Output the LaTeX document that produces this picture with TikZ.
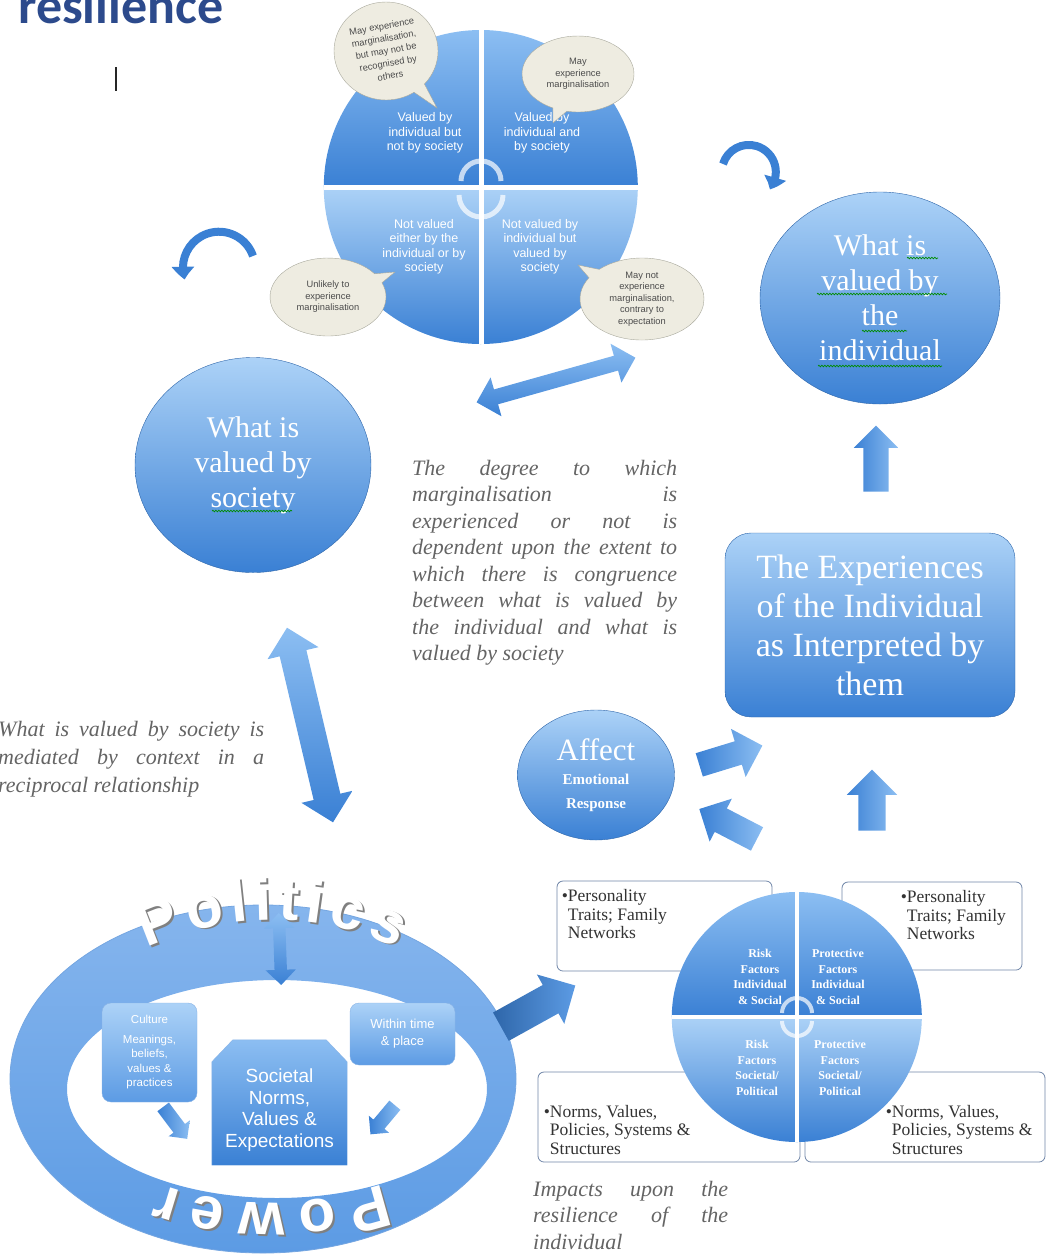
\documentclass[tikz,border=0pt]{standalone}
\usepackage{fontspec}
\setmainfont{Liberation Serif}
\setsansfont{Liberation Sans}
\newfontfamily\titlefont{Carlito}
\usepackage{tikz}
\usetikzlibrary{shapes.geometric, shapes.arrows, shapes.callouts, arrows.meta, bending, positioning, decorations.text, decorations.pathmorphing}
\definecolor{titleblue}{RGB}{44, 74, 140}
\definecolor{paleblue}{RGB}{172, 210, 247}
\definecolor{skyblue}{RGB}{140, 190, 242}
\definecolor{midblue}{RGB}{92, 155, 228}
\definecolor{deepblue}{RGB}{58, 128, 212}
\definecolor{ringblue}{RGB}{112, 168, 234}
\definecolor{bubblefill}{RGB}{238, 236, 225}
\definecolor{bubbleline}{RGB}{168, 168, 156}
\definecolor{notegray}{RGB}{100, 100, 100}
\definecolor{boxline}{RGB}{112, 134, 168}

\begin{document}
\begin{tikzpicture}[
    x=1pt, y=1pt,
    bigcirc/.style={ellipse, draw=deepblue!80!black, top color=paleblue, bottom color=deepblue, text=white, align=center, inner sep=0pt, font=\fontsize{30}{35}\selectfont},
    quad/.style={text=white, align=center, inner sep=0pt, font=\sffamily\fontsize{12.5}{14.5}\selectfont},
    factor/.style={text=white, align=center, inner sep=0pt, font=\bfseries\fontsize{12}{15.5}\selectfont},
    bubble/.style={ellipse callout, draw=bubbleline, fill=bubblefill, inner sep=0pt, text=black!70, align=center, font=\sffamily\fontsize{9.3}{11.5}\selectfont},
    note/.style={text=notegray, align=justify, inner sep=0pt, anchor=north west, font=\itshape\fontsize{22}{26.5}\selectfont},
    listbox/.style={rectangle, rounded corners=6pt, draw=boxline, thick, fill=white},
    listtext/.style={text=black!80, align=left, inner sep=0pt, font=\fontsize{17.5}{18.5}\selectfont},
    ctxbox/.style={rectangle, rounded corners=9pt, draw=deepblue!60, top color=paleblue, bottom color=midblue, text=white, align=center, inner sep=0pt, font=\sffamily\fontsize{11.5}{14.5}\selectfont},
    onearrow/.style 2 args={single arrow, draw=none, left color=deepblue, right color=skyblue, inner xsep=0pt, inner ysep=#1, single arrow head extend=#2},
    twoarrow/.style 2 args={double arrow, draw=none, top color=skyblue, bottom color=deepblue, inner xsep=0pt, inner ysep=#1, double arrow head extend=#2},
    curl/.style={line width=8pt, draw=deepblue, -{Triangle[width=22pt, length=13pt, bend]}},
    cyclemark/.style={draw=white, opacity=0.7, line width=5pt},
    spell/.style={draw=green!55!black, line width=0.7pt, decorate, decoration={snake, amplitude=0.8pt, segment length=3pt}},
    ringword/.style 2 args={decorate, decoration={text along path, text align=fit to path, text color=#1, text={|\sffamily\bfseries\fontsize{60}{60}\selectfont|#2}}},
  ]

  % Frame
  \useasboundingbox (0,0) rectangle (1059,-1259);
  \clip (0,0) rectangle (1059,-1259);

  % Title, cut by the top edge
  \node[anchor=base west, inner sep=0pt, text=titleblue, font=\titlefont\bfseries\fontsize{52}{52}\selectfont] (title) at (18,-23) {resilience};
  \coordinate (cursortop) at (116,-67);
  \coordinate (cursorbot) at (116,-91);
  \draw[line width=1.8pt, black!85] (cursortop) -- (cursorbot);

  % Matrix of what is valued
  \node[circle, minimum size=314, inner sep=0pt] (grid) at (481,-187) {};
  \shade[top color=skyblue, bottom color=deepblue] (grid.west) arc[start angle=180, end angle=0, radius=157] -- cycle;
  \shade[top color=paleblue, bottom color=deepblue] (grid.west) arc[start angle=180, end angle=360, radius=157] -- cycle;
  \draw[white, line width=5pt] (grid.north) -- (grid.south);
  \draw[white, line width=5pt] (grid.west) -- (grid.east);
  \draw[cyclemark] (461,-181) arc[start angle=180, end angle=0, radius=20];
  \draw[cyclemark] (459,-195) arc[start angle=180, end angle=360, radius=22];
  \node[quad] (q1) at (425,-133) {Valued by\\individual but\\not by society};
  \node[quad] (q2) at (542,-133) {Valued by\\individual and\\by society};
  \node[quad] (q3) at (424,-247) {Not valued\\either by the\\individual or by\\society};
  \node[quad] (q4) at (540,-247) {Not valued by\\individual but\\valued by\\society};

  % Speech bubbles
  \node[bubble, minimum width=104, minimum height=98, callout absolute pointer={(437,-108)}] (b1) at (386,-51) {};
  \node[inner sep=0pt, text=black!70, align=center, font=\sffamily\fontsize{9.3}{12.5}\selectfont, rotate=10] (b1text) at (b1.center) {May experience\\marginalisation,\\but may not be\\recognised by\\others};
  \node[bubble, minimum width=112, minimum height=76, callout absolute pointer={(553,-123)}] (b2) at (578,-74) {May\\experience\\marginalisation};
  \node[bubble, minimum width=116, minimum height=78, callout absolute pointer={(395,-272)}] (b3) at (328,-297) {Unlikely to\\experience\\marginalisation};
  \node[bubble, minimum width=124, minimum height=82, callout absolute pointer={(578,-265)}] (b4) at (642,-299) {May not\\experience\\marginalisation,\\contrary to\\expectation};

  % Curved arrows
  \draw[curl] (253,-256) arc[start angle=19, end angle=199, radius=36];
  \draw[curl] (723,-164) arc[start angle=163, end angle=-40, radius=27];

  % Circles and the experiences box
  \node[bigcirc, minimum width=236, minimum height=215] (society) at (253,-465) {What is\\valued by\\society};
  \node[bigcirc, minimum width=240, minimum height=212] (individual) at (880,-298) {What is\\valued by\\the\\individual};
  \node[rectangle, rounded corners=26pt, draw=deepblue!80!black, top color=paleblue, bottom color=deepblue, text=white, align=center, minimum width=290, minimum height=184, inner sep=0pt, font=\fontsize{34}{39}\selectfont] (experience) at (870,-625) {The Experiences\\of the Individual\\as Interpreted by\\them};
  \node[bigcirc, minimum width=157, minimum height=130, font=\bfseries\fontsize{15}{24}\selectfont] (affect) at (596,-775) {{\mdseries\fontsize{31}{31}\selectfont Affect}\\Emotional\\Response};

  % Spelling marks
  \draw[spell] (212,-511) -- (292,-511);
  \draw[spell] (907,-258) -- (938,-258);
  \draw[spell] (817,-294) -- (947,-294);
  \draw[spell] (862,-331) -- (907,-331);
  \draw[spell] (818,-366) -- (942,-366);

  % Notes
  \node[note, text width=265] (congruence) at (412,-460) {The degree to which\linebreak marginalisation is\linebreak experienced or not is\linebreak dependent upon the extent to\linebreak which there is congruence\linebreak between what is valued by\linebreak the individual and what is\linebreak valued by society};
  \node[note, text width=266, font=\itshape\fontsize{22}{28}\selectfont] (mediated) at (-2,-721) {What is valued by society is\linebreak mediated by context in a\linebreak reciprocal relationship};
  \node[note, text width=195] (impacts) at (533,-1181) {Impacts upon the\linebreak resilience of the\linebreak individual};

  % Block arrows
  \node[twoarrow={7.5pt}{12.5pt}, minimum height=165, rotate=15.7] (linkarrow) at (556,-380) {};
  \node[twoarrow={13.5pt}{12.5pt}, minimum height=200, rotate=-76.7] (contextarrow) at (310,-725) {};
  \node[onearrow={12.5pt}{9.5pt}, minimum height=66, rotate=90] (risearrow) at (876,-465) {};
  \node[onearrow={13.5pt}{11.5pt}, minimum height=61, rotate=90] (liftarrow) at (872,-807) {};
  \node[onearrow={12pt}{13pt}, minimum height=66, rotate=17] (feedarrow) at (725,-757) {};
  \node[onearrow={13pt}{11pt}, minimum height=65, rotate=152.6] (backarrow) at (734,-827) {};

  % Context ring
  \shade[even odd rule, top color=ringblue!85!white, bottom color=midblue] (263,-1079) ellipse[x radius=253, y radius=174] (277,-1089) ellipse[x radius=210, y radius=109];
  \draw[deepblue!70, thick] (263,-1079) ellipse[x radius=253, y radius=174];
  \path[ringword={gray}{Politics}, shift={(1.8,-1.8)}] (147,-948) arc[start angle=115.25, end angle=64.75, radius=293];
  \path[ringword={white}{Politics}] (147,-948) arc[start angle=115.25, end angle=64.75, radius=293];
  \path[ringword={gray}{Power}, shift={(1.8,-1.8)}] (383.7,-1184.3) arc[start angle=-71, end angle=-109, radius=343];
  \path[ringword={white}{Power}] (383.7,-1184.3) arc[start angle=-71, end angle=-109, radius=343];
  \node[twoarrow={6pt}{9pt}, minimum height=72, rotate=92] (politicsarrow) at (280,-949) {};
  \node[ctxbox, minimum width=95, minimum height=99] (culture) at (149.5,-1052.5) {Culture\\[5pt]Meanings,\\beliefs,\\values \&\\practices};
  \node[ctxbox, minimum width=105, minimum height=62, font=\sffamily\fontsize{13}{17}\selectfont] (timeplace) at (402.5,-1034) {Within time\\\& place};
  \node[rectangle, minimum width=135, minimum height=125, inner sep=0pt] (norms) at (279.5,-1102.5) {};
  \shade[draw=deepblue!60, top color=skyblue, bottom color=deepblue] (norms.south west) -- ([yshift=-22pt]norms.north west) -- ([xshift=21pt]norms.north west) -- ([xshift=-21pt]norms.north east) -- ([yshift=-22pt]norms.north east) -- (norms.south east) -- cycle;
  \node[text=white, align=center, inner sep=0pt, font=\sffamily\fontsize{19}{21.5}\selectfont] (normstext) at (279.5,-1110) {Societal\\Norms,\\Values \&\\Expectations};
  \node[onearrow={7pt}{6pt}, minimum height=40, rotate=-53] (culturearrow) at (173,-1120) {};
  \node[onearrow={7pt}{6pt}, minimum height=38, rotate=-130] (placearrow) at (385,-1117) {};
  \node[onearrow={16pt}{12pt}, minimum height=85, rotate=29, left color=deepblue!80!black, right color=midblue] (impactarrow) at (531,-1010) {};

  % Risk and protective factors
  \node[listbox, minimum width=215, minimum height=90] (riskpersonal) at (664.5,-926) {};
  \node[listbox, minimum width=180, minimum height=88] (protpersonal) at (932,-926) {};
  \node[listbox, minimum width=262, minimum height=90] (risksystem) at (669,-1117) {};
  \node[listbox, minimum width=240, minimum height=90] (protsystem) at (925,-1117) {};
  \node[listtext, below right=9pt and 5pt of riskpersonal.north west] (riskpersonaltext) {•Personality\\\phantom{•}Traits; Family\\\phantom{•}Networks};
  \node[listtext, below right=9pt and 59pt of protpersonal.north west] (protpersonaltext) {•Personality\\\phantom{•}Traits; Family\\\phantom{•}Networks};
  \node[listtext, above right=8pt and 6pt of risksystem.south west] (risksystemtext) {•Norms, Values,\\\phantom{•}Policies, Systems \&\\\phantom{•}Structures};
  \node[listtext, above right=8pt and 81pt of protsystem.south west] (protsystemtext) {•Norms, Values,\\\phantom{•}Policies, Systems \&\\\phantom{•}Structures};

  \node[circle, minimum size=250, inner sep=0pt] (factors) at (797,-1017) {};
  \shade[top color=skyblue, bottom color=deepblue] (factors.west) arc[start angle=180, end angle=0, radius=125] -- cycle;
  \shade[top color=paleblue, bottom color=deepblue] (factors.west) arc[start angle=180, end angle=360, radius=125] -- cycle;
  \draw[white, line width=4pt] (factors.north) -- (factors.south);
  \draw[white, line width=4pt] (factors.west) -- (factors.east);
  \draw[cyclemark, line width=4pt] (782,-1013) arc[start angle=180, end angle=0, radius=15];
  \draw[cyclemark, line width=4pt] (782,-1021) arc[start angle=180, end angle=360, radius=15];
  \node[factor] (riskind) at (760,-977) {Risk\\Factors\\Individual\\\& Social};
  \node[factor] (protind) at (838,-977) {Protective\\Factors\\Individual\\\& Social};
  \node[factor] (risksoc) at (757,-1068) {Risk\\Factors\\Societal/\\Political};
  \node[factor] (protsoc) at (840,-1068) {Protective\\Factors\\Societal/\\Political};

\end{tikzpicture}
\end{document}
